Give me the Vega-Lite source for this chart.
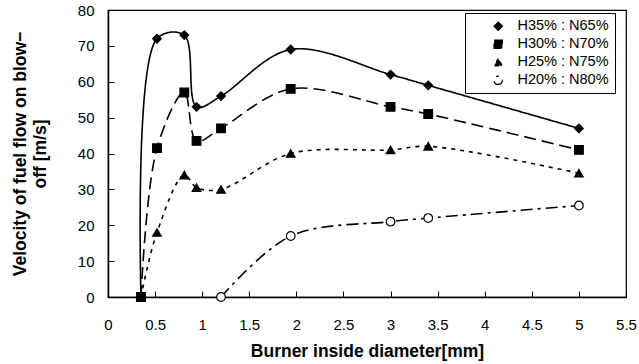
{
  "$schema": "https://vega.github.io/schema/vega-lite/v6.json",
  "width": 518,
  "height": 287,
  "autosize": {"type": "none"},
  "padding": {"left": 108, "top": 10, "right": 13, "bottom": 67},
  "background": "white",
  "config": {
    "view": {"stroke": "black", "strokeWidth": 1.2},
    "font": "Liberation Sans",
    "axis": {
      "grid": false,
      "domainColor": "black",
      "domainWidth": 1.5,
      "tickColor": "black",
      "tickSize": -6,
      "labelColor": "black",
      "labelFont": "Liberation Sans",
      "labelFontSize": 15,
      "titleFont": "Liberation Sans",
      "titleFontWeight": "bold",
      "titleFontSize": 17.5,
      "titleColor": "black"
    },
    "legend": {
      "orient": "none",
      "legendX": 357,
      "legendY": 3,
      "padding": 6,
      "strokeColor": "black",
      "fillColor": "white",
      "labelFont": "Liberation Sans",
      "labelFontSize": 14.5,
      "labelColor": "black",
      "rowPadding": 3,
      "symbolSize": 70,
      "symbolOffset": 20,
      "labelOffset": 12,
      "symbolStrokeColor": "black",
      "symbolStrokeWidth": 1.2
    }
  },
  "data": {
    "values": [
      {"s": "H35% : N65%", "d": 0.35, "v": 0},
      {"s": "H35% : N65%", "d": 0.52, "v": 72},
      {"s": "H35% : N65%", "d": 0.81, "v": 73},
      {"s": "H35% : N65%", "d": 0.94, "v": 53},
      {"s": "H35% : N65%", "d": 1.2, "v": 56},
      {"s": "H35% : N65%", "d": 1.94, "v": 69},
      {"s": "H35% : N65%", "d": 3.0, "v": 62},
      {"s": "H35% : N65%", "d": 3.4, "v": 59},
      {"s": "H35% : N65%", "d": 5.0, "v": 47},
      {"s": "H30% : N70%", "d": 0.35, "v": 0},
      {"s": "H30% : N70%", "d": 0.52, "v": 41.5},
      {"s": "H30% : N70%", "d": 0.81, "v": 57},
      {"s": "H30% : N70%", "d": 0.94, "v": 43.5},
      {"s": "H30% : N70%", "d": 1.2, "v": 47},
      {"s": "H30% : N70%", "d": 1.94, "v": 58},
      {"s": "H30% : N70%", "d": 3.0, "v": 53},
      {"s": "H30% : N70%", "d": 3.4, "v": 51},
      {"s": "H30% : N70%", "d": 5.0, "v": 41},
      {"s": "H25% : N75%", "d": 0.35, "v": 0},
      {"s": "H25% : N75%", "d": 0.52, "v": 18},
      {"s": "H25% : N75%", "d": 0.81, "v": 34},
      {"s": "H25% : N75%", "d": 0.94, "v": 30.5},
      {"s": "H25% : N75%", "d": 1.2, "v": 30},
      {"s": "H25% : N75%", "d": 1.94, "v": 40},
      {"s": "H25% : N75%", "d": 3.0, "v": 41},
      {"s": "H25% : N75%", "d": 3.4, "v": 42},
      {"s": "H25% : N75%", "d": 5.0, "v": 34.5},
      {"s": "H20% : N80%", "d": 1.2, "v": 0},
      {"s": "H20% : N80%", "d": 1.94, "v": 17},
      {"s": "H20% : N80%", "d": 3.0, "v": 21},
      {"s": "H20% : N80%", "d": 3.4, "v": 22},
      {"s": "H20% : N80%", "d": 5.0, "v": 25.5}
    ]
  },
  "encoding": {
    "x": {
      "field": "d",
      "type": "quantitative",
      "scale": {"domain": [0, 5.5], "nice": false, "zero": false},
      "axis": {"values": [0, 0.5, 1, 1.5, 2, 2.5, 3, 3.5, 4, 4.5, 5, 5.5], "format": "~g", "labelPadding": 26, "title": "Burner inside diameter[mm]", "titlePadding": 10, "labelFlush": false}
    },
    "y": {
      "field": "v",
      "type": "quantitative",
      "scale": {"domain": [0, 80], "nice": false},
      "axis": {"values": [0, 10, 20, 30, 40, 50, 60, 70, 80], "labelPadding": 20, "title": ["Velocity of fuel flow on blow−", "off [m/s]"], "titlePadding": 28, "labelFlush": false}
    }
  },
  "layer": [
    {
      "mark": {"type": "line", "interpolate": "catmull-rom", "stroke": "black", "strokeWidth": 1.6},
      "encoding": {
        "strokeDash": {
          "field": "s",
          "type": "nominal",
          "scale": {"domain": ["H35% : N65%", "H30% : N70%", "H25% : N75%", "H20% : N80%"], "range": [[1, 0], [12, 6], [4, 5], [12, 5, 3, 5]]},
          "legend": {"title": null, "encoding": {"symbols": {
            "strokeDash": {"value": [1, 0]},
            "shape": {"signal": "datum.value === 'H35% : N65%' ? 'M-4.7,-0.06H4.7V0.06H-4.7Z M0,-1.2L1.2,0L0,1.2L-1.2,0Z' : datum.value === 'H30% : N70%' ? 'M-4.7,-0.06H-1.3V0.06H-4.7Z M1.8,-0.06H4.1V0.06H1.8Z M-1.1,-1.1H1.1V1.1H-1.1Z' : datum.value === 'H25% : N75%' ? 'M-4.7,-0.06H-3.1V0.06H-4.7Z M2.8,-0.06H4.1V0.06H2.8Z M0,-1.2L1.2,0.9L-1.2,0.9Z' : 'M-4.7,-0.06H-1.2V0.06H-4.7Z M2.8,-0.06H4.1V0.06H2.8Z M1.1,0A1.1,1.1 0 1,1 -1.1,0A1.1,1.1 0 1,1 1.1,0Z'"}
          }}}
        }
      }
    },
    {
      "mark": {"type": "point", "stroke": "black", "strokeWidth": 1.2, "size": 75, "opacity": 1},
      "encoding": {
        "shape": {
          "field": "s",
          "type": "nominal",
          "scale": {"domain": ["H35% : N65%", "H30% : N70%", "H25% : N75%", "H20% : N80%"], "range": ["diamond", "square", "triangle-up", "circle"]},
          "legend": {"title": null, "encoding": {"symbols": {
            "strokeDash": {"value": [1, 0]},
            "shape": {"signal": "datum.value === 'H35% : N65%' ? 'M-4.7,-0.06H4.7V0.06H-4.7Z M0,-1.2L1.2,0L0,1.2L-1.2,0Z' : datum.value === 'H30% : N70%' ? 'M-4.7,-0.06H-1.3V0.06H-4.7Z M1.8,-0.06H4.1V0.06H1.8Z M-1.1,-1.1H1.1V1.1H-1.1Z' : datum.value === 'H25% : N75%' ? 'M-4.7,-0.06H-3.1V0.06H-4.7Z M2.8,-0.06H4.1V0.06H2.8Z M0,-1.2L1.2,0.9L-1.2,0.9Z' : 'M-4.7,-0.06H-1.2V0.06H-4.7Z M2.8,-0.06H4.1V0.06H2.8Z M1.1,0A1.1,1.1 0 1,1 -1.1,0A1.1,1.1 0 1,1 1.1,0Z'"}
          }}}
        },
        "fill": {
          "field": "s",
          "type": "nominal",
          "scale": {"domain": ["H35% : N65%", "H30% : N70%", "H25% : N75%", "H20% : N80%"], "range": ["black", "black", "black", "white"]},
          "legend": {"title": null, "encoding": {"symbols": {
            "strokeDash": {"value": [1, 0]},
            "shape": {"signal": "datum.value === 'H35% : N65%' ? 'M-4.7,-0.06H4.7V0.06H-4.7Z M0,-1.2L1.2,0L0,1.2L-1.2,0Z' : datum.value === 'H30% : N70%' ? 'M-4.7,-0.06H-1.3V0.06H-4.7Z M1.8,-0.06H4.1V0.06H1.8Z M-1.1,-1.1H1.1V1.1H-1.1Z' : datum.value === 'H25% : N75%' ? 'M-4.7,-0.06H-3.1V0.06H-4.7Z M2.8,-0.06H4.1V0.06H2.8Z M0,-1.2L1.2,0.9L-1.2,0.9Z' : 'M-4.7,-0.06H-1.2V0.06H-4.7Z M2.8,-0.06H4.1V0.06H2.8Z M1.1,0A1.1,1.1 0 1,1 -1.1,0A1.1,1.1 0 1,1 1.1,0Z'"}
          }}}
        }
      }
    }
  ]
}
